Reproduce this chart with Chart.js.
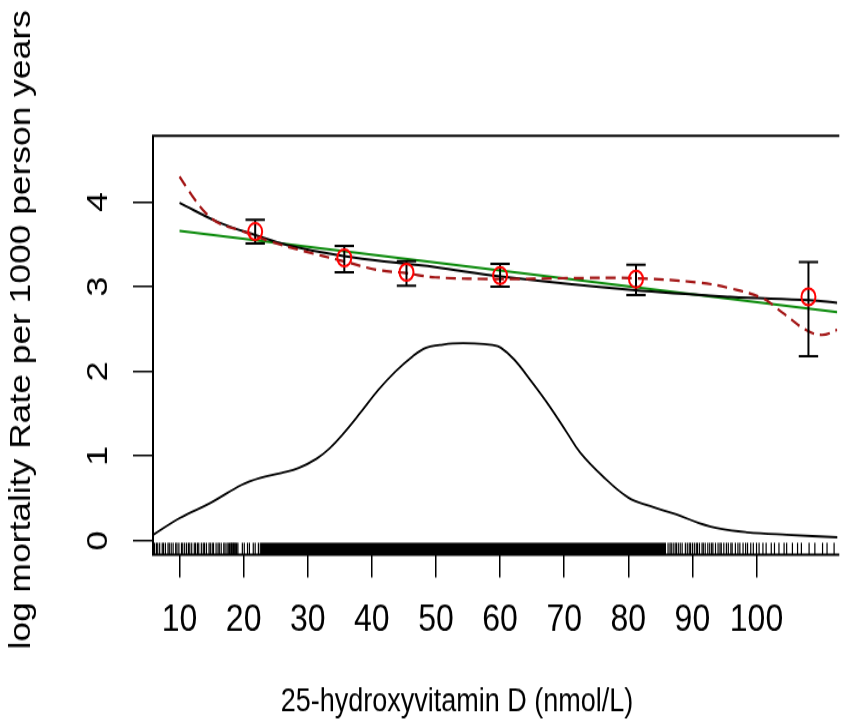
<!DOCTYPE html>
<html>
<head>
<meta charset="utf-8">
<script src="https://cdn.jsdelivr.net/npm/chart.js@4.4.1/dist/chart.umd.min.js"></script>
<style>
  html, body { margin: 0; padding: 0; background: #fff; }
  #outer { width: 849px; height: 728px; overflow: hidden; position: relative; }
  /* the reference is stretched vertically, so draw at 607px and stretch to 728px */
  #wrap { position: absolute; left: 0; top: 0; width: 849px; height: 607px; transform: scaleY(1.1993); transform-origin: 0 0; }
</style>
</head>
<body>
<div id="outer"><div id="wrap"><canvas id="chart" width="849" height="607"></canvas></div></div>
<script>
// ---- data ----
const xTicks = [10, 20, 30, 40, 50, 60, 70, 80, 90, 100];
const yTicks = [0, 1, 2, 3, 4];
const xTitle = '25-hydroxyvitamin D (nmol/L)';
const yTitle = 'log mortality Rate per 1000 person years';

// density of 25(OH)D
const densX = [5.9, 10.1, 14.9, 19.7, 22.5, 25.9, 28.6, 31.4, 33.4, 35.5, 38.2, 41.0, 43.7, 46.4, 48.5, 50.6, 52.6, 56.0, 58.8, 60.1, 62.2, 64.9, 67.7, 70.4, 72.5, 75.9, 80.0, 83.4, 87.5, 91.0, 94.4, 98.5, 104.7, 112.7];
const densY = [0.07, 0.27, 0.45, 0.66, 0.74, 0.80, 0.86, 0.97, 1.09, 1.26, 1.51, 1.78, 2.00, 2.18, 2.28, 2.31, 2.33, 2.33, 2.31, 2.28, 2.14, 1.88, 1.59, 1.28, 1.04, 0.77, 0.51, 0.41, 0.31, 0.21, 0.14, 0.10, 0.07, 0.04];

// fitted spline (black)
const fitX = [10, 16.1, 21.8, 26.9, 35.6, 45.3, 49.9, 60.1, 80.6, 95.9, 108.2, 112.6];
const fitY = [3.99, 3.76, 3.61, 3.49, 3.36, 3.27, 3.23, 3.12, 2.96, 2.88, 2.84, 2.81];

// linear fit (green)
const linX = [10, 112.6];
const linY = [3.66, 2.70];

// smoother (red dashed)
const smX = [10, 12.0, 14.1, 16.1, 19.2, 24.3, 29.4, 35.6, 40.7, 45.3, 49.9, 60.1, 70.3, 80.6, 90.8, 95.9, 101.0, 104.1, 107.7, 110.2, 112.6];
const smY = [4.30, 4.07, 3.87, 3.75, 3.67, 3.53, 3.42, 3.30, 3.20, 3.16, 3.11, 3.09, 3.10, 3.10, 3.05, 2.98, 2.86, 2.69, 2.49, 2.43, 2.49];

// group estimates with intervals
const ptX = [21.8, 35.7, 45.4, 60.0, 81.2, 108.1];
const ptY = [3.65, 3.34, 3.17, 3.13, 3.09, 2.88];
const ciLow = [3.51, 3.17, 3.01, 3.00, 2.90, 2.18];
const ciHigh = [3.79, 3.48, 3.30, 3.27, 3.26, 3.29];

// rug of observations (sparse ends) and the solid middle range
const rugX = [6.1, 6.4, 6.6, 6.9, 7.3, 7.5, 7.8, 8.2, 8.4, 8.7, 9.0, 9.4, 9.6, 9.9, 10.3, 10.5, 10.8, 11.1, 11.4, 11.6, 11.9, 12.3, 12.5, 12.8, 13.0, 13.4, 13.7, 13.9, 14.2, 14.6, 14.8, 15.1, 15.3, 15.7, 16.0, 16.2, 16.5, 16.9, 17.1, 17.4, 17.6,
  17.8, 18.0, 18.1, 18.3, 18.4, 18.6, 18.7, 18.9, 19.1, 19.8, 20.1, 20.6, 20.9, 21.5, 21.8, 22.3, 22.6,
  86.2, 86.5, 86.7, 87.0, 87.3, 87.5, 87.8, 88.1, 88.4, 88.9, 89.2, 89.5, 89.7, 90.0, 90.3, 90.6, 90.8, 91.1, 91.5, 91.7, 92.0, 92.4, 92.7, 93.0, 93.2, 93.6, 94.0, 94.3, 94.5, 94.9, 95.3, 95.6, 96.0, 96.2, 96.7, 97.1, 97.4, 97.9, 98.3, 98.6, 99.1, 99.5, 100.0, 100.4, 101.0, 101.5, 102.3, 102.8, 103.5, 104.3, 104.7, 105.6, 106.4, 107.0, 108.2, 109.1, 110.3, 111.0, 112.1];
const rugBand = [22.7, 85.9];

// ---- layout / style ----
const X_MIN = 5.86, X_MAX = 112.6;
const Y_MIN = -0.165, Y_MAX = 4.78;
const RUG_Y = -0.094, RUG_TOP = -0.024;
const FONT = "'Liberation Sans', Arial, sans-serif";

const pts = (xs, ys) => xs.map((x, i) => ({x: x, y: ys[i]}));

var stems = [];
ptX.forEach(function(x, i) {
  stems.push({x: x, y: ciLow[i]}, {x: x, y: ciHigh[i]}, {x: x, y: null});
});
var caps = [];
ptX.forEach(function(x, i) {
  caps.push({x: x, y: ciLow[i]}, {x: x, y: ciHigh[i]});
});

// plot frame (right side is cut off in the reference) and the two axis titles
var framePlugin = {
  id: 'frame',
  afterDatasetsDraw: function(chart) {
    var a = chart.chartArea, ctx = chart.ctx;
    ctx.save();
    ctx.strokeStyle = '#000';
    ctx.lineWidth = 2;
    ctx.beginPath();
    ctx.moveTo(a.right + 2, a.top);
    ctx.lineTo(a.left, a.top);
    ctx.lineTo(a.left, a.bottom);
    ctx.lineTo(a.right + 2, a.bottom);
    ctx.stroke();
    ctx.restore();
  },
  afterDraw: function(chart) {
    var ctx = chart.ctx;
    ctx.save();
    ctx.fillStyle = '#000';
    ctx.textAlign = 'center';
    ctx.textBaseline = 'middle';
    ctx.font = '27px ' + FONT;
    ctx.fillText(xTitle, 457, 586);
    ctx.translate(22, 275);
    ctx.rotate(-Math.PI / 2);
    ctx.font = '29.5px ' + FONT;
    ctx.fillText(yTitle, 0, 0);
    ctx.restore();
  }
};

new Chart(document.getElementById('chart'), {
  type: 'line',
  data: {
    datasets: [
      { // circles
        data: pts(ptX, ptY), showLine: false, pointStyle: 'circle', pointRadius: 7,
        pointBorderColor: '#ff0000', pointBackgroundColor: 'rgba(0,0,0,0)', pointBorderWidth: 2
      },
      { // caps
        data: caps, showLine: false, pointStyle: 'line', pointRadius: 9.7,
        pointBorderColor: '#000', pointBorderWidth: 2
      },
      { // stems
        data: stems, borderColor: '#000', borderWidth: 2, pointRadius: 0, spanGaps: false
      },
      { // red dashed smoother
        data: pts(smX, smY), borderColor: '#a31515', borderWidth: 2.2, borderDash: [10, 6],
        pointRadius: 0, tension: 0.4
      },
      { // black spline
        data: pts(fitX, fitY), borderColor: '#000', borderWidth: 2,
        pointRadius: 0, tension: 0.4
      },
      { // green linear
        data: pts(linX, linY), borderColor: '#0a8a0a', borderWidth: 2, pointRadius: 0
      },
      { // density
        data: pts(densX, densY), borderColor: '#000', borderWidth: 1.8,
        pointRadius: 0, tension: 0.4
      },
      { // rug ticks
        data: rugX.map(x => ({x: x, y: RUG_Y})), showLine: false, pointStyle: 'line',
        pointRotation: 90, pointRadius: 5, pointBorderColor: '#000', pointBorderWidth: 1.2
      },
      { // rug solid range
        data: rugBand.map(x => ({x: x, y: RUG_TOP})), borderWidth: 0, pointRadius: 0,
        backgroundColor: '#000', fill: {value: Y_MIN}
      }
    ]
  },
  options: {
    responsive: false,
    animation: false,
    events: [],
    layout: { padding: { top: 113.3, left: 0, right: 0, bottom: 0 } },
    plugins: { legend: { display: false }, tooltip: { enabled: false } },
    scales: {
      x: {
        type: 'linear', min: X_MIN, max: X_MAX,
        afterBuildTicks: function(s) { s.ticks = xTicks.map(v => ({value: v})); },
        afterFit: function(s) { s.height = 144.5; },
        grid: { drawOnChartArea: false, drawTicks: true, tickLength: 19, lineWidth: 1.5, color: '#000' },
        border: { display: false },
        ticks: { color: '#000', font: { size: 32, family: FONT }, padding: 16, maxRotation: 0, autoSkip: false }
      },
      y: {
        type: 'linear', min: Y_MIN, max: Y_MAX,
        afterBuildTicks: function(s) { s.ticks = yTicks.map(v => ({value: v})); },
        afterFit: function(s) { s.width = 153; },
        grid: { drawOnChartArea: false, drawTicks: true, tickLength: 20, lineWidth: 1.5, color: '#000' },
        border: { display: false },
        ticks: { color: '#000', font: { size: 30, family: FONT }, padding: 25.7, minRotation: 90, maxRotation: 90, crossAlign: 'center' }
      }
    }
  },
  plugins: [framePlugin]
});
</script>
</body>
</html>
